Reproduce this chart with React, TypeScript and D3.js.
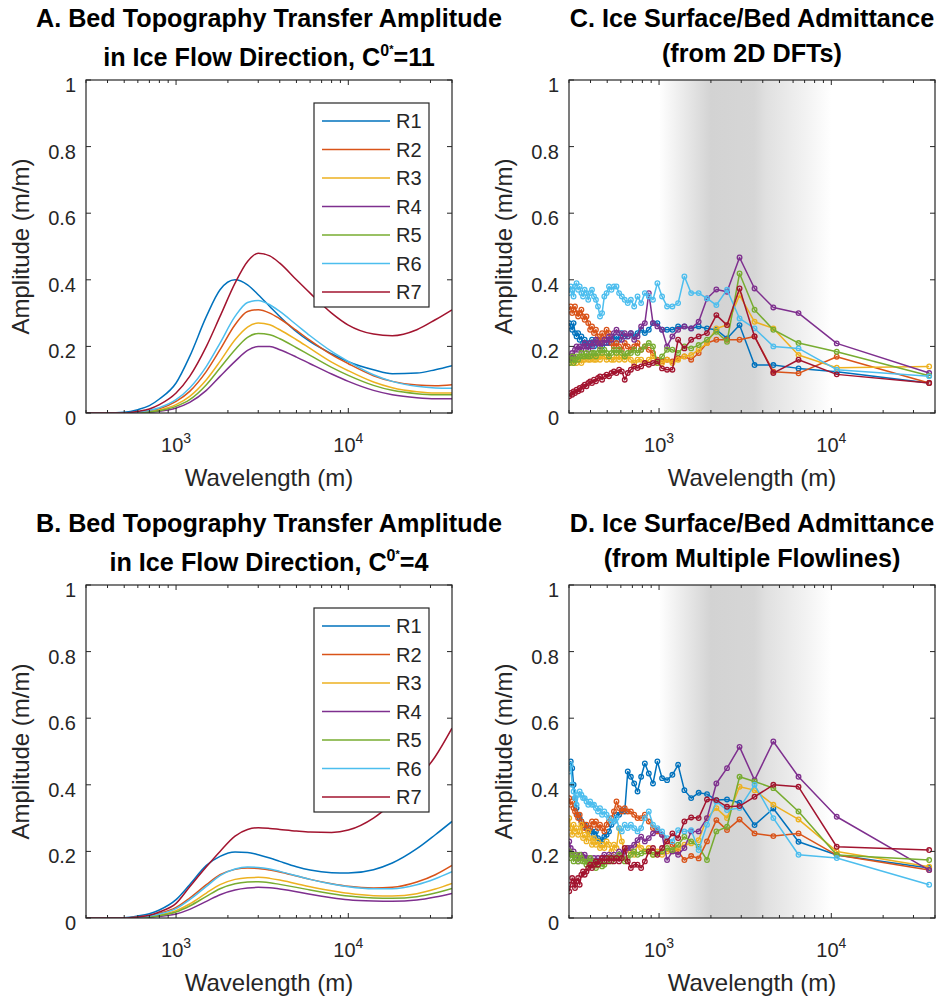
import * as d3 from 'd3'

const FONT = "'Liberation Sans', Arial, Helvetica, sans-serif"
const INK = '#262626'

const regionNames = ['R1', 'R2', 'R3', 'R4', 'R5', 'R6', 'R7']
const regionColors = ['#0072BD', '#D95319', '#EDB120', '#7E2F8E', '#77AC30', '#4DBEEE', '#A2142F']

// modelled transfer amplitude, sampled wavelengths (m)
const modelWavelengths = [300, 400, 500, 600, 700, 800, 1000, 1200, 1500, 1800, 2200, 2600, 3000, 3500, 4000, 5000, 6000, 8000, 10000, 14000, 18000, 25000, 32000, 40000]

// A: C0* = 11
const aR1 = [0, 0, 0.002, 0.01, 0.022, 0.042, 0.09, 0.17, 0.29, 0.37, 0.4, 0.385, 0.355, 0.32, 0.29, 0.244, 0.214, 0.178, 0.154, 0.13, 0.118, 0.12, 0.13, 0.142]
const aR2 = [0, 0, 0, 0.002, 0.006, 0.013, 0.035, 0.065, 0.125, 0.19, 0.265, 0.305, 0.31, 0.3, 0.283, 0.248, 0.218, 0.175, 0.148, 0.112, 0.095, 0.084, 0.082, 0.085]
const aR3 = [0, 0, 0, 0, 0.004, 0.009, 0.025, 0.05, 0.1, 0.155, 0.22, 0.258, 0.27, 0.265, 0.25, 0.22, 0.194, 0.153, 0.127, 0.093, 0.076, 0.064, 0.06, 0.06]
const aR4 = [0, 0, 0, 0, 0.002, 0.005, 0.015, 0.032, 0.068, 0.11, 0.155, 0.188, 0.2, 0.2, 0.19, 0.168, 0.148, 0.117, 0.095, 0.068, 0.055, 0.046, 0.043, 0.043]
const aR5 = [0, 0, 0, 0, 0.003, 0.007, 0.02, 0.04, 0.085, 0.135, 0.19, 0.227, 0.239, 0.235, 0.223, 0.196, 0.173, 0.137, 0.113, 0.083, 0.068, 0.058, 0.055, 0.055]
const aR6 = [0, 0, 0, 0.003, 0.008, 0.016, 0.04, 0.075, 0.14, 0.21, 0.29, 0.332, 0.338, 0.325, 0.305, 0.265, 0.232, 0.185, 0.155, 0.115, 0.095, 0.08, 0.075, 0.074]
const aR7 = [0, 0, 0, 0.005, 0.012, 0.025, 0.06, 0.11, 0.2, 0.29, 0.39, 0.455, 0.48, 0.472, 0.45, 0.4, 0.36, 0.3, 0.264, 0.237, 0.232, 0.25, 0.28, 0.31]

// B: C0* = 4
const bR1 = [0, 0, 0.001, 0.006, 0.013, 0.024, 0.055, 0.1, 0.158, 0.185, 0.198, 0.197, 0.19, 0.18, 0.17, 0.154, 0.144, 0.136, 0.135, 0.145, 0.165, 0.208, 0.25, 0.29]
const bR2 = [0, 0, 0, 0.003, 0.007, 0.014, 0.032, 0.06, 0.1, 0.13, 0.146, 0.15, 0.149, 0.144, 0.138, 0.126, 0.116, 0.103, 0.095, 0.09, 0.092, 0.108, 0.13, 0.158]
const bR3 = [0, 0, 0, 0.001, 0.004, 0.009, 0.022, 0.042, 0.075, 0.1, 0.116, 0.121, 0.122, 0.119, 0.114, 0.103, 0.094, 0.082, 0.074, 0.067, 0.066, 0.073, 0.087, 0.104]
const bR4 = [0, 0, 0, 0, 0.002, 0.005, 0.012, 0.026, 0.05, 0.07, 0.084, 0.09, 0.092, 0.091, 0.087, 0.079, 0.071, 0.061, 0.055, 0.051, 0.05, 0.054, 0.063, 0.074]
const bR5 = [0, 0, 0, 0.001, 0.003, 0.007, 0.018, 0.036, 0.065, 0.088, 0.103, 0.108, 0.109, 0.106, 0.101, 0.092, 0.084, 0.073, 0.066, 0.06, 0.059, 0.064, 0.075, 0.089]
const bR6 = [0, 0, 0, 0.002, 0.006, 0.012, 0.028, 0.055, 0.095, 0.127, 0.147, 0.153, 0.152, 0.147, 0.14, 0.127, 0.116, 0.102, 0.094, 0.088, 0.088, 0.1, 0.118, 0.139]
const bR7 = [0, 0, 0, 0.003, 0.008, 0.018, 0.044, 0.094, 0.154, 0.2, 0.246, 0.266, 0.271, 0.269, 0.266, 0.261, 0.258, 0.257, 0.264, 0.3, 0.345, 0.415, 0.485, 0.57]

// observed admittance, wavelengths of the spectral bins (m)
const obsWavelengths = [301, 307, 313, 319, 325, 332, 339, 346, 354, 362, 370, 379, 388, 398, 408, 419, 430, 442, 454, 467, 481, 496, 512, 529, 547, 566, 586, 608, 632, 658, 686, 717, 750, 787, 827, 872, 922, 978, 1041, 1113, 1195, 1290, 1403, 1536, 1698, 1898, 2151, 2481, 2933, 3584, 4608, 6452, 10753, 37000]

// C: from 2D DFTs
const cR1 = [0.27, 0.26, 0.25, 0.27, 0.24, 0.23, 0.24, 0.22, 0.23, 0.21, 0.22, 0.21, 0.2, 0.21, 0.22, 0.2, 0.21, 0.22, 0.21, 0.2, 0.21, 0.22, 0.21, 0.23, 0.22, 0.23, 0.22, 0.24, 0.23, 0.23, 0.24, 0.23, 0.24, 0.25, 0.24, 0.25, 0.27, 0.27, 0.25, 0.25, 0.25, 0.26, 0.26, 0.254, 0.26, 0.254, 0.25, 0.224, 0.264, 0.144, 0.144, 0.134, 0.124, 0.09]
const cR2 = [0.31, 0.32, 0.3, 0.31, 0.32, 0.3, 0.29, 0.3, 0.31, 0.29, 0.28, 0.29, 0.27, 0.25, 0.26, 0.24, 0.25, 0.23, 0.21, 0.24, 0.22, 0.25, 0.24, 0.21, 0.2, 0.21, 0.2, 0.19, 0.21, 0.2, 0.19, 0.2, 0.21, 0.19, 0.2, 0.19, 0.18, 0.16, 0.155, 0.16, 0.155, 0.165, 0.17, 0.16, 0.18, 0.21, 0.22, 0.22, 0.22, 0.23, 0.124, 0.119, 0.169, 0.09]
const cR3 = [0.16, 0.15, 0.16, 0.15, 0.16, 0.15, 0.16, 0.16, 0.15, 0.16, 0.16, 0.17, 0.16, 0.16, 0.17, 0.16, 0.16, 0.17, 0.16, 0.17, 0.17, 0.16, 0.17, 0.16, 0.16, 0.17, 0.16, 0.17, 0.16, 0.17, 0.16, 0.15, 0.16, 0.16, 0.15, 0.16, 0.17, 0.15, 0.15, 0.16, 0.15, 0.16, 0.17, 0.174, 0.19, 0.21, 0.254, 0.264, 0.354, 0.274, 0.254, 0.174, 0.136, 0.14]
const cR4 = [0.16, 0.17, 0.18, 0.17, 0.19, 0.2, 0.19, 0.2, 0.19, 0.2, 0.21, 0.2, 0.19, 0.21, 0.2, 0.21, 0.22, 0.21, 0.2, 0.21, 0.22, 0.21, 0.23, 0.22, 0.24, 0.25, 0.24, 0.22, 0.24, 0.23, 0.24, 0.22, 0.23, 0.26, 0.27, 0.36, 0.27, 0.26, 0.25, 0.2, 0.23, 0.25, 0.26, 0.254, 0.274, 0.344, 0.371, 0.364, 0.467, 0.374, 0.317, 0.3, 0.209, 0.12]
const cR5 = [0.15, 0.16, 0.17, 0.15, 0.16, 0.17, 0.16, 0.17, 0.18, 0.17, 0.17, 0.18, 0.17, 0.17, 0.18, 0.18, 0.17, 0.18, 0.19, 0.18, 0.19, 0.18, 0.17, 0.18, 0.19, 0.18, 0.19, 0.18, 0.17, 0.18, 0.18, 0.19, 0.18, 0.19, 0.2, 0.21, 0.2, 0.15, 0.17, 0.19, 0.19, 0.18, 0.2, 0.194, 0.204, 0.22, 0.244, 0.214, 0.419, 0.31, 0.25, 0.21, 0.184, 0.112]
const cR6 = [0.36, 0.38, 0.37, 0.35, 0.38, 0.39, 0.37, 0.38, 0.36, 0.35, 0.37, 0.36, 0.34, 0.36, 0.37, 0.35, 0.34, 0.32, 0.29, 0.3, 0.35, 0.36, 0.38, 0.37, 0.38, 0.38, 0.36, 0.35, 0.34, 0.33, 0.34, 0.32, 0.35, 0.33, 0.36, 0.35, 0.34, 0.39, 0.35, 0.32, 0.32, 0.33, 0.41, 0.36, 0.36, 0.344, 0.324, 0.37, 0.284, 0.254, 0.2, 0.194, 0.13, 0.11]
const cR7 = [0.05, 0.06, 0.055, 0.065, 0.06, 0.07, 0.065, 0.075, 0.07, 0.08, 0.085, 0.08, 0.09, 0.095, 0.09, 0.1, 0.095, 0.105, 0.11, 0.1, 0.11, 0.115, 0.11, 0.12, 0.125, 0.12, 0.13, 0.125, 0.1, 0.12, 0.13, 0.14, 0.135, 0.14, 0.15, 0.145, 0.15, 0.155, 0.134, 0.13, 0.13, 0.22, 0.194, 0.22, 0.23, 0.24, 0.294, 0.264, 0.374, 0.23, 0.12, 0.16, 0.116, 0.09]

// D: from multiple flowlines
const dR1 = [0.46, 0.47, 0.45, 0.4, 0.36, 0.33, 0.31, 0.3, 0.29, 0.28, 0.28, 0.27, 0.27, 0.26, 0.26, 0.25, 0.26, 0.24, 0.23, 0.234, 0.244, 0.25, 0.26, 0.28, 0.29, 0.31, 0.31, 0.324, 0.32, 0.44, 0.424, 0.404, 0.38, 0.424, 0.464, 0.434, 0.404, 0.47, 0.42, 0.414, 0.43, 0.46, 0.384, 0.36, 0.376, 0.372, 0.354, 0.356, 0.346, 0.279, 0.329, 0.229, 0.189, 0.15]
const dR2 = [0.36, 0.34, 0.35, 0.33, 0.32, 0.31, 0.3, 0.31, 0.29, 0.28, 0.27, 0.28, 0.26, 0.27, 0.29, 0.28, 0.29, 0.27, 0.28, 0.27, 0.26, 0.28, 0.29, 0.3, 0.32, 0.35, 0.33, 0.32, 0.33, 0.32, 0.32, 0.31, 0.3, 0.3, 0.31, 0.29, 0.27, 0.26, 0.25, 0.23, 0.22, 0.2, 0.174, 0.186, 0.179, 0.23, 0.294, 0.264, 0.296, 0.254, 0.246, 0.254, 0.189, 0.144]
const dR3 = [0.3, 0.27, 0.25, 0.28, 0.26, 0.27, 0.25, 0.26, 0.28, 0.24, 0.25, 0.23, 0.26, 0.24, 0.22, 0.24, 0.22, 0.23, 0.21, 0.22, 0.21, 0.23, 0.22, 0.2, 0.22, 0.21, 0.27, 0.23, 0.2, 0.21, 0.2, 0.19, 0.22, 0.21, 0.2, 0.21, 0.19, 0.2, 0.19, 0.2, 0.2, 0.21, 0.22, 0.224, 0.234, 0.3, 0.33, 0.3, 0.394, 0.384, 0.34, 0.296, 0.2, 0.154]
const dR4 = [0.23, 0.21, 0.19, 0.2, 0.18, 0.19, 0.17, 0.18, 0.19, 0.18, 0.19, 0.18, 0.17, 0.18, 0.17, 0.18, 0.17, 0.18, 0.17, 0.18, 0.19, 0.18, 0.19, 0.18, 0.19, 0.18, 0.2, 0.19, 0.2, 0.21, 0.21, 0.22, 0.234, 0.244, 0.23, 0.24, 0.254, 0.264, 0.25, 0.174, 0.2, 0.19, 0.21, 0.26, 0.26, 0.3, 0.404, 0.45, 0.514, 0.414, 0.53, 0.424, 0.304, 0.144]
const dR5 = [0.2, 0.18, 0.19, 0.17, 0.19, 0.18, 0.17, 0.19, 0.18, 0.17, 0.17, 0.16, 0.17, 0.18, 0.16, 0.17, 0.15, 0.16, 0.17, 0.155, 0.16, 0.17, 0.18, 0.17, 0.18, 0.18, 0.19, 0.18, 0.17, 0.18, 0.19, 0.2, 0.19, 0.194, 0.2, 0.2, 0.19, 0.194, 0.2, 0.21, 0.204, 0.22, 0.244, 0.23, 0.214, 0.174, 0.26, 0.274, 0.424, 0.41, 0.39, 0.32, 0.189, 0.174]
const dR6 = [0.44, 0.46, 0.4, 0.38, 0.36, 0.34, 0.37, 0.38, 0.37, 0.36, 0.36, 0.35, 0.34, 0.35, 0.34, 0.34, 0.33, 0.32, 0.33, 0.31, 0.32, 0.31, 0.3, 0.29, 0.29, 0.3, 0.27, 0.26, 0.28, 0.27, 0.28, 0.27, 0.26, 0.27, 0.3, 0.32, 0.28, 0.27, 0.26, 0.24, 0.23, 0.264, 0.26, 0.264, 0.204, 0.28, 0.35, 0.324, 0.33, 0.4, 0.3, 0.19, 0.18, 0.1]
const dR7 = [0.08, 0.1, 0.12, 0.11, 0.09, 0.11, 0.12, 0.1, 0.13, 0.14, 0.13, 0.14, 0.15, 0.16, 0.15, 0.16, 0.17, 0.16, 0.17, 0.18, 0.17, 0.18, 0.17, 0.18, 0.17, 0.18, 0.17, 0.18, 0.21, 0.17, 0.15, 0.16, 0.16, 0.15, 0.17, 0.2, 0.21, 0.19, 0.21, 0.23, 0.254, 0.24, 0.29, 0.302, 0.3, 0.356, 0.354, 0.334, 0.336, 0.364, 0.4, 0.394, 0.214, 0.204]

const yTicks = [0, 0.2, 0.4, 0.6, 0.8, 1]
const yTickLabels = ['0', '0.2', '0.4', '0.6', '0.8', '1']
const xDomain = [300, 40000]
const shadeBand = [1000, 2000, 4000, 10000]

const PW = 366
const PH = 333

type PanelProps = {
  id: string
  left: number
  top: number
  titleLines: React.ReactNode[]
  titleY: number[]
  xs: number[]
  ys: number[][]
  markers?: boolean
  legend?: boolean
  shade?: boolean
}

function Panel({ id, left, top, titleLines, titleY, xs, ys, markers, legend, shade }: PanelProps) {
  const x = d3.scaleLog().domain(xDomain).range([left, left + PW])
  const y = d3.scaleLinear().domain([0, 1]).range([top + PH, top])
  const bottom = top + PH
  const right = left + PW
  const cx = left + PW / 2

  const line = d3.line<number>()
    .x((_, i) => x(xs[i]))
    .y(d => y(d))
    .curve(markers ? d3.curveLinear : d3.curveMonotoneX)

  const xt = x.ticks()
  const isMajor = (t: number) => Math.abs(Math.log10(t) - Math.round(Math.log10(t))) < 1e-9

  const s0 = x(shadeBand[0])
  const s1 = x(shadeBand[3])
  const off = (v: number) => (x(v) - s0) / (s1 - s0)

  return (
    <g fontFamily={FONT}>
      <defs>
        <clipPath id={`clip-${id}`}>
          <rect x={left} y={top} width={PW} height={PH} />
        </clipPath>
        {shade && (
          <linearGradient id={`shade-${id}`} gradientUnits="userSpaceOnUse" x1={s0} x2={s1} y1={0} y2={0}>
            <stop offset={0} stopColor="#ffffff" />
            <stop offset={off(shadeBand[1])} stopColor="#d3d3d3" />
            <stop offset={off(shadeBand[2]) - 0.05} stopColor="#d6d6d6" />
            <stop offset={off(shadeBand[2]) + 0.02} stopColor="#e0e0e0" />
            <stop offset={0.85} stopColor="#f2f2f2" />
            <stop offset={1} stopColor="#ffffff" />
          </linearGradient>
        )}
      </defs>

      <rect x={left} y={top} width={PW} height={PH} fill="#fff" />
      {shade && <rect x={s0} y={top} width={s1 - s0} height={PH} fill={`url(#shade-${id})`} />}

      <g clipPath={`url(#clip-${id})`}>
        {ys.map((vals, k) => (
          <g key={k}>
            <path d={line(vals) ?? ''} fill="none" stroke={regionColors[k]} strokeWidth={1.5} strokeLinejoin="round" />
            {markers && vals.map((v, i) => (
              <circle key={i} cx={x(xs[i])} cy={y(v)} r={2.3} fill="none" stroke={regionColors[k]} strokeWidth={1.3} />
            ))}
          </g>
        ))}
      </g>

      {/* axes box and ticks */}
      <rect x={left} y={top} width={PW} height={PH} fill="none" stroke={INK} strokeWidth={1.2} />
      {yTicks.map(t => (
        <g key={t}>
          <line x1={left} x2={left + 5} y1={y(t)} y2={y(t)} stroke={INK} />
          <line x1={right} x2={right - 5} y1={y(t)} y2={y(t)} stroke={INK} />
        </g>
      ))}
      {xt.map(t => {
        const len = isMajor(t) ? 5 : 3
        return (
          <g key={t}>
            <line x1={x(t)} x2={x(t)} y1={bottom} y2={bottom - len} stroke={INK} />
            <line x1={x(t)} x2={x(t)} y1={top} y2={top + len} stroke={INK} />
          </g>
        )
      })}

      {/* tick labels */}
      {yTicks.map((t, i) => (
        <text key={t} x={left - 10} y={y(t) + 12} textAnchor="end" fontSize={20} fill={INK}>{yTickLabels[i]}</text>
      ))}
      {xt.filter(isMajor).map(t => (
        <text key={t} x={x(t)} y={bottom + 39} textAnchor="middle" fontSize={20} fill={INK}>
          10<tspan dy={-9} fontSize={14}>{Math.round(Math.log10(t))}</tspan>
        </text>
      ))}

      {/* axis labels */}
      <text x={cx} y={bottom + 73} textAnchor="middle" fontSize={24} fill={INK}>Wavelength (m)</text>
      <text transform={`translate(${left - 57},${top + PH / 2}) rotate(-90)`} textAnchor="middle" fontSize={24} fill={INK}>Amplitude (m/m)</text>

      {/* title */}
      {titleLines.map((ln, i) => (
        <text key={i} x={cx} y={titleY[i]} textAnchor="middle" fontSize={25.2} fontWeight="bold" fill="#000">{ln}</text>
      ))}

      {legend && (
        <g>
          <rect x={left + 228} y={top + 23} width={115} height={204} fill="#fff" stroke={INK} strokeWidth={1.2} />
          {regionNames.map((n, i) => {
            const ly = top + 41 + i * 28.5
            return (
              <g key={n}>
                <line x1={left + 236} x2={left + 304} y1={ly} y2={ly} stroke={regionColors[i]} strokeWidth={1.5} />
                <text x={left + 310} y={ly + 7} fontSize={20} fill={INK}>{n}</text>
              </g>
            )
          })}
        </g>
      )}
    </g>
  )
}

const superC = (val: string) => (
  <>
    in Ice Flow Direction, C<tspan dy={-10} fontSize={16}>0</tspan><tspan dy={-3} fontSize={11}>*</tspan><tspan dy={13}>={val}</tspan>
  </>
)

export default function App() {
  const aSeries = [aR1, aR2, aR3, aR4, aR5, aR6, aR7]
  const bSeries = [bR1, bR2, bR3, bR4, bR5, bR6, bR7]
  const cSeries = [cR1, cR2, cR3, cR4, cR5, cR6, cR7]
  const dSeries = [dR1, dR2, dR3, dR4, dR5, dR6, dR7]
  const dy = 505

  return (
    <svg width={938} height={997} style={{ position: 'absolute', left: 0, top: 0 }}>
      <rect width={938} height={997} fill="#fff" />
      <Panel id="a" left={86} top={80} xs={modelWavelengths} ys={aSeries} legend
        titleLines={['A. Bed Topography Transfer Amplitude', superC('11')]} titleY={[27, 66]} />
      <Panel id="b" left={86} top={80 + dy} xs={modelWavelengths} ys={bSeries} legend
        titleLines={['B. Bed Topography Transfer Amplitude', superC('4')]} titleY={[27 + dy, 66 + dy]} />
      <Panel id="c" left={569} top={80} xs={obsWavelengths} ys={cSeries} markers shade
        titleLines={['C. Ice Surface/Bed Admittance', '(from 2D DFTs)']} titleY={[27, 62]} />
      <Panel id="d" left={569} top={80 + dy} xs={obsWavelengths} ys={dSeries} markers shade
        titleLines={['D. Ice Surface/Bed Admittance', '(from Multiple Flowlines)']} titleY={[27 + dy, 62 + dy]} />
    </svg>
  )
}
